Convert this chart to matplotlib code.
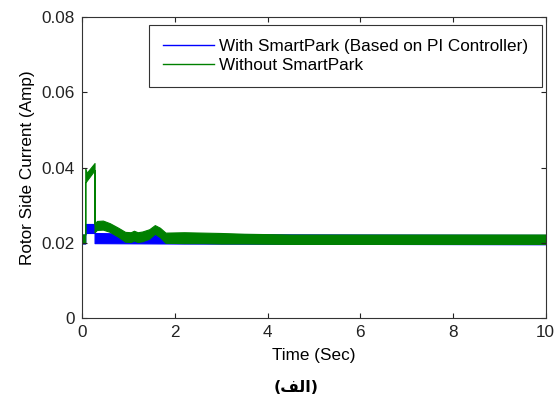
import numpy as np
import matplotlib.pyplot as plt

# envelopes of the fast-oscillating currents (band lower/upper edges)
t_with = [0, 0.07, 0.07, 0.27, 0.27, 2.0, 10]
with_lo = [0.0198, 0.0198, 0.0226, 0.0226, 0.0199, 0.0198, 0.0196]
with_hi = [0.0222, 0.0222, 0.0250, 0.0250, 0.0226, 0.0223, 0.0221]

t_without = [0, 0.07, 0.07, 0.1, 0.27, 0.27, 0.32, 0.45, 0.6, 0.78, 0.93, 1.05, 1.12,
             1.2, 1.3, 1.45, 1.57, 1.68, 1.8, 2.2, 2.6, 3.0, 3.5, 4.5, 10]
without_lo = [0.0199, 0.0199, 0.0360, 0.0365, 0.0393, 0.0228, 0.0234, 0.0235, 0.0229,
              0.0216, 0.0203, 0.0202, 0.0206, 0.0202, 0.0204, 0.0211, 0.0224, 0.0215,
              0.0200, 0.0199, 0.0199, 0.0198, 0.0198, 0.0197, 0.0197]
without_hi = [0.0222, 0.0222, 0.0399, 0.0386, 0.0412, 0.0250, 0.0258, 0.0259, 0.0252,
              0.0240, 0.0229, 0.0228, 0.0232, 0.0228, 0.0230, 0.0236, 0.0247, 0.0240,
              0.0227, 0.0228, 0.0227, 0.0226, 0.0224, 0.0222, 0.0222]

labels = ['With SmartPark (Based on PI Controller)', 'Without SmartPark']
x_ticks = [0, 2, 4, 6, 8, 10]
y_ticks = [0, 0.02, 0.04, 0.06, 0.08]
y_tick_labels = ['0', '0.02', '0.04', '0.06', '0.08']

plt.rcParams['font.family'] = ['Liberation Sans', 'DejaVu Sans']
fs = 12.3

fig = plt.figure(figsize=(5.58, 3.98), dpi=100)
ax = fig.add_axes([0.147, 0.201, 0.831, 0.756])

ax.fill_between(t_with, with_lo, with_hi, color='#0000ff', linewidth=0.8, edgecolor='#0000ff')
ax.fill_between(t_without, without_lo, without_hi, color='#008000', linewidth=0.8, edgecolor='#008000')
ax.plot([], [], color='#0000ff', linewidth=1, label=labels[0])
ax.plot([], [], color='#008000', linewidth=1, label=labels[1])

ax.set_xlim(0, 10)
ax.set_ylim(0, 0.08)
ax.set_xticks(x_ticks)
ax.set_xticklabels([str(v) for v in x_ticks])
ax.set_yticks(y_ticks)
ax.set_yticklabels(y_tick_labels)
ax.tick_params(direction='in', top=True, right=True, length=3.5, width=0.8,
               labelsize=fs, colors='#222222', pad=5)
for s in ax.spines.values():
    s.set_color('#333333')
    s.set_linewidth(0.8)

ax.set_xlabel('Time (Sec)', fontsize=fs, labelpad=6)
ax.set_ylabel('Rotor Side Current (Amp)', fontsize=fs, labelpad=5)

leg = ax.legend(loc='upper right', bbox_to_anchor=(0.9914, 0.9734), borderaxespad=0,
                fontsize=fs, handlelength=3.0, handletextpad=0.3, borderpad=0.8,
                labelspacing=0.25, fancybox=False, framealpha=1)
leg.get_frame().set_edgecolor('#333333')
leg.get_frame().set_linewidth(0.8)

# Persian caption "(الف)" in shaped presentation forms, visual order
fig.text(0.53, 0.026, '(\uFED2\uFEDF\uFE8D)', ha='center', va='center',
         fontsize=11.5, fontweight='bold', family=['DejaVu Sans'])

fig.savefig('out.png', dpi=100)
